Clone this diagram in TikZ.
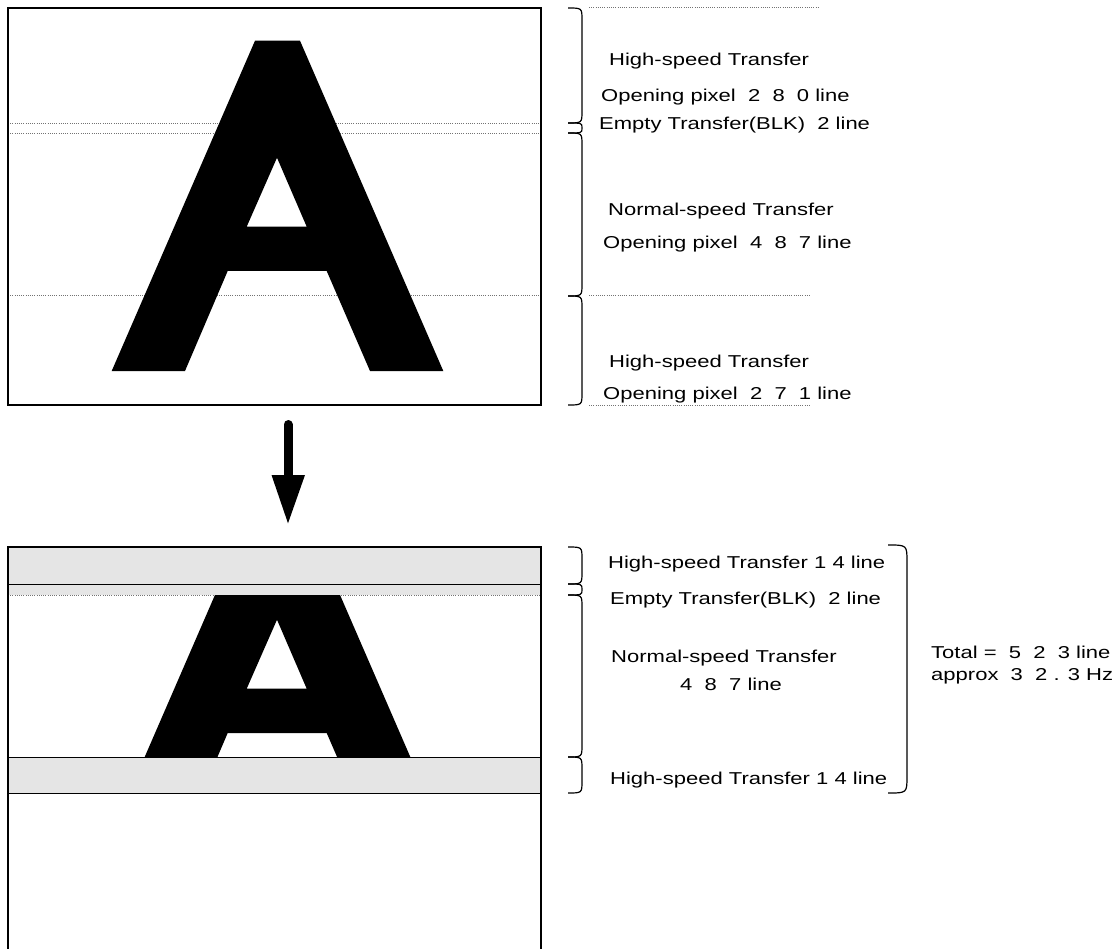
\documentclass[tikz,border=0pt]{standalone}
\usepackage{fontspec}
\setmainfont{Liberation Sans}
\usepackage{graphicx}
\newcommand{\SX}[1]{\scalebox{1.28}[1]{#1}}
\begin{document}
\begin{tikzpicture}[x=1pt,y=-1pt,
  lbl/.style={anchor=base west, inner sep=0pt, font=\fontsize{17.2}{20}\selectfont},
  frame/.style={line width=1.6pt, black},
  dotln/.style={black!55, line width=0.8pt, dash pattern=on 1pt off 1.2pt},
  brk/.style={line width=1.2pt, black},
  band/.style={fill=black!10, draw=none},
  letterA/.pic={
    \fill[even odd rule] (255,40.7) -- (300,40.7) -- (443.3,371) -- (370,371) -- (326.7,271)
      -- (227.7,271) -- (185,371) -- (111.7,371) -- cycle
      (277,157.7) -- (306.7,226.7) -- (246.7,226.7) -- cycle;
  }]
\useasboundingbox (0,0) rectangle (1113,949);

% ---------- top panel ----------
\draw[dotln] (8,123.3) -- (541,123.3);
\draw[dotln] (8,133.3) -- (541,133.3);
\draw[dotln] (8,295.7) -- (541,295.7);
\pic at (0,0) {letterA};
\draw[frame] (8,8) rectangle (541,405);

% right dotted guides
\draw[dotln] (589,7.5) -- (820,7.5);
\draw[dotln] (589,295.7) -- (810,295.7);
\draw[dotln] (589,405) -- (810,405);

% brackets top
\draw[brk] (568,8) .. controls (582,8) .. (582,20) -- (582,111) .. controls (582,123) .. (568,123);
\draw[brk] (568,123) .. controls (582,123) .. (582,128) .. controls (582,133) .. (568,133);
\draw[brk] (568,133) .. controls (582,133) .. (582,145) -- (582,284) .. controls (582,296) .. (568,296);
\draw[brk] (568,296) .. controls (582,296) .. (582,308) -- (582,393) .. controls (582,405) .. (568,405);

% labels top
\node[lbl] (t1) at (609,66) {\SX{High-speed Transfer}};
\node[lbl] (t2) at (601,102) {\SX{Opening pixel\ \ 2\ \ 8\ \ 0 line}};
\node[lbl] (t3) at (599,130) {\SX{Empty Transfer(BLK)\ \ 2 line}};
\node[lbl] (t4) at (608,216) {\SX{Normal-speed Transfer}};
\node[lbl] (t5) at (603,249) {\SX{Opening pixel\ \ 4\ \ 8\ \ 7 line}};
\node[lbl] (t6) at (609,367) {\SX{High-speed Transfer}};
\node[lbl] (t7) at (603,399) {\SX{Opening pixel\ \ 2\ \ 7\ \ 1 line}};

% ---------- arrow ----------
\draw[line width=9pt, line cap=round] (288,424.5) -- (288,478);
\fill (271.5,475) -- (305,475) -- (288,523.3) -- cycle;

% ---------- bottom panel ----------
\fill[band] (8,547) rectangle (541,595);
\fill[band] (8,757.3) rectangle (541,793.3);
\begin{scope}[shift={(0,462)}]
  \clip (0,133.3) rectangle (600,295.7);
  \pic at (0,0) {letterA};
\end{scope}
\draw[dotln] (8,595) -- (214,595);
\draw[dotln] (341,595) -- (541,595);
\draw[frame] (8,949) -- (8,547) -- (541,547) -- (541,949);
\draw[line width=1.4pt] (8,584.3) -- (541,584.3);
\draw[line width=1.4pt] (8,757.3) -- (541,757.3);
\draw[line width=1.4pt] (8,793.3) -- (541,793.3);

% brackets bottom
\draw[brk] (568,547) .. controls (582,547) .. (582,559) -- (582,572) .. controls (582,584) .. (568,584);
\draw[brk] (568,584) .. controls (582,584) .. (582,589.5) .. controls (582,595) .. (568,595);
\draw[brk] (568,595) .. controls (582,595) .. (582,607) -- (582,745) .. controls (582,757) .. (568,757);
\draw[brk] (568,757) .. controls (582,757) .. (582,769) -- (582,781) .. controls (582,793) .. (568,793);
\draw[brk] (888,545) .. controls (907,545) .. (907,562) -- (907,776) .. controls (907,793) .. (888,793);

% labels bottom
\node[lbl] (b1) at (608,568) {\SX{High-speed Transfer 1 4 line}};
\node[lbl] (b2) at (610,604) {\SX{Empty Transfer(BLK)\ \ 2 line}};
\node[lbl] (b3) at (611,662) {\SX{Normal-speed Transfer}};
\node[lbl] (b4) at (680,690) {\SX{4\ \ 8\ \ 7 line}};
\node[lbl] (b5) at (610,784) {\SX{High-speed Transfer 1 4 line}};
\node[lbl] (b6) at (931,658.3) {\SX{Total =\ \ 5\ \ 2\ \ 3 line}};
\node[lbl] (b7) at (931,680) {\SX{approx\ \ 3\ \ 2 . 3 Hz}};
\end{tikzpicture}
\end{document}
